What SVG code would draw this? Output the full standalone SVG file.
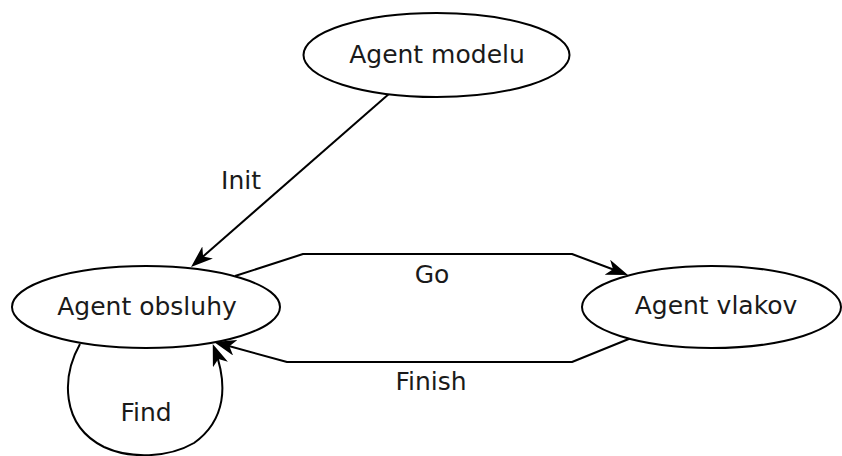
<svg xmlns="http://www.w3.org/2000/svg" width="842" height="456" viewBox="0 0 842 456">
  <style>
    .node ellipse { fill: #ffffff; stroke: #000000; stroke-width: 2; }
    text { font-family: "DejaVu Sans", "Liberation Sans", sans-serif; font-size: 25px; fill: #1a1a1a; text-anchor: middle; }
    .edge { fill: none; stroke: #000000; stroke-width: 2; stroke-linejoin: round; marker-end: url(#arrow); }
  </style>
  <defs>
    <marker id="arrow" viewBox="0 0 22 16" refX="17" refY="8" markerWidth="22" markerHeight="16" markerUnits="userSpaceOnUse" orient="auto">
      <path d="M22,8 L0,0 L6,8 L0,16 Z" fill="#000000"/>
    </marker>
  </defs>

  <rect width="842" height="456" fill="#ffffff"/>

  <!-- connectors -->
  <g id="edges">
    <path id="edge-init" class="edge" d="M390,93 L194.8,263.7"/>
    <path id="edge-go" class="edge" d="M235,276 L303,254 L572,254 L623.3,273.2"/>
    <path id="edge-finish" class="edge" d="M630,338.5 L572,362 L287,362 L218.8,343.3"/>
    <path id="edge-find" class="edge" d="M80,344 C62,376 60,425 104,447 C130,459 168,458 194,443 C226,420 228,385 214.5,348.6"/>
    <text x="241" y="189">Init</text>
    <text x="432" y="283">Go</text>
    <text x="431" y="390">Finish</text>
    <text x="146" y="421">Find</text>
  </g>

  <!-- nodes -->
  <g id="agent-modelu" class="node">
    <ellipse cx="436.5" cy="55" rx="133" ry="42"/>
    <text x="437" y="63">Agent modelu</text>
  </g>
  <g id="agent-obsluhy" class="node">
    <ellipse cx="146" cy="307" rx="134" ry="41"/>
    <text x="147" y="315">Agent obsluhy</text>
  </g>
  <g id="agent-vlakov" class="node">
    <ellipse cx="711.5" cy="307" rx="129.5" ry="41"/>
    <text x="716" y="314">Agent vlakov</text>
  </g>
</svg>
